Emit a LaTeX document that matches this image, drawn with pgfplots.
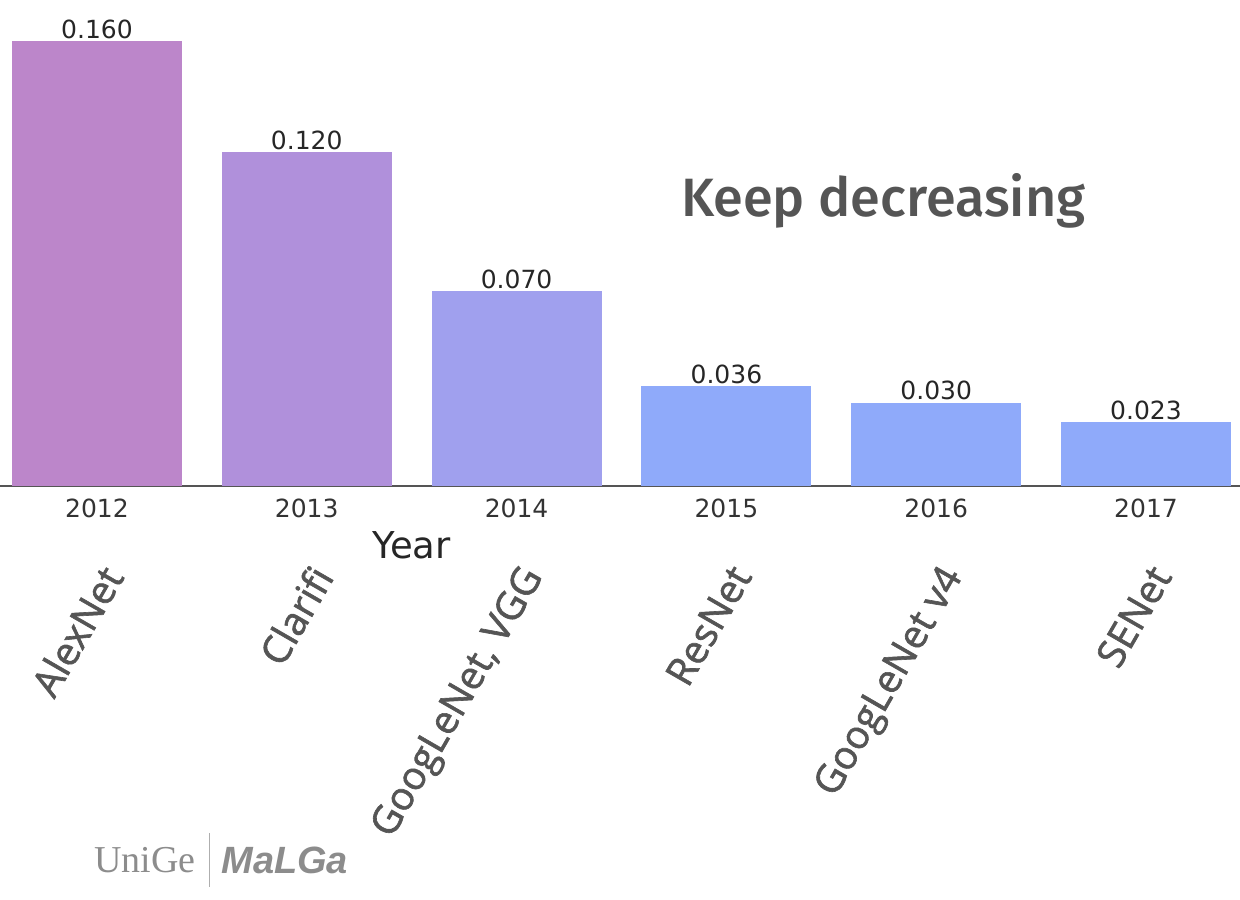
\documentclass[border=0pt]{standalone}
\usepackage{pgfplots}
\pgfplotsset{compat=1.18}
\usepackage{fontspec}
\setmainfont{DejaVu Sans}
\newfontfamily\fira{Fira Sans}[UprightFont=* Medium, ItalicFont=* Medium Italic, BoldFont=* Bold]
\newfontfamily\osans{Open Sans}[FakeBold=1.6]
\newfontfamily\logoserif{Liberation Serif}
\newfontfamily\logosans{Liberation Sans}
\definecolor{c12}{RGB}{188,134,202}
\definecolor{c13}{RGB}{176,144,219}
\definecolor{c14}{RGB}{160,160,238}
\definecolor{c15}{RGB}{143,170,250}
\definecolor{txtgray}{RGB}{85,85,85}
\definecolor{logogray}{RGB}{140,140,140}
\tikzset{namelbl/.style={rotate=60, anchor=north east, inner sep=0pt, font=\osans\fontsize{19.5}{23}\selectfont, text=txtgray}}
\begin{document}
\begin{tikzpicture}
\path[use as bounding box] (0,-206.5pt) rectangle (620pt,243pt);
\begin{axis}[
  at={(0,0)}, anchor=south west,
  scale only axis, width=620pt, height=243pt,
  xmin=-0.462, xmax=5.448, ymin=0, ymax=0.1748,
  axis x line*=bottom, axis y line=none,
  x axis line style={draw=txtgray, line width=1pt},
  xtick={0,1,2,3,4,5},
  xticklabels={2012,2013,2014,2015,2016,2017},
  ytick=\empty,
  major tick length=0pt,
  xticklabel style={font=\fontsize{12.5}{15}\selectfont, text=black!80, yshift=-3pt},
  /pgf/number format/assume math mode=true,
  ybar, bar width=0.81, bar shift=0pt,
  nodes near coords={\pgfmathprintnumber[fixed,fixed zerofill,precision=3]{\pgfplotspointmeta}},
  nodes near coords style={font=\fontsize{12.5}{15}\selectfont, text=black!85, inner sep=1pt, anchor=south},
  clip=false,
]
\addplot[fill=c12, draw=none] coordinates {(0,0.160)};
\addplot[fill=c13, draw=none] coordinates {(1,0.120)};
\addplot[fill=c14, draw=none] coordinates {(2,0.070)};
\addplot[fill=c15, draw=none] coordinates {(3,0.036)};
\addplot[fill=c15, draw=none] coordinates {(4,0.030)};
\addplot[fill=c15, draw=none] coordinates {(5,0.023)};

\node[font=\fira\fontsize{27}{32}\selectfont, text=txtgray] at (axis cs:3.748,0.1025) {Keep decreasing};
\node[font=\fontsize{18.5}{22}\selectfont, text=black!85] at (axis cs:1.5,-0.0212) {Year};

\node[namelbl] at (axis cs:0.01,-0.0273) {AlexNet};
\node[namelbl] at (axis cs:1.01,-0.0273) {Clarifi};
\node[namelbl] at (axis cs:2.01,-0.0273) {GoogLeNet, VGG};
\node[namelbl] at (axis cs:3.01,-0.0273) {ResNet};
\node[namelbl] at (axis cs:4.01,-0.0273) {GoogLeNet v4};
\node[namelbl] at (axis cs:5.01,-0.0273) {SENet};

\node[font=\logoserif\fontsize{19}{22}\selectfont, text=logogray] at (axis cs:0.229,-0.1345) {UniGe};
\draw[logogray!70, line width=0.6pt] (axis cs:0.538,-0.1248) -- (axis cs:0.538,-0.1442);
\node[font=\logosans\bfseries\itshape\fontsize{19}{22}\selectfont, text=logogray] at (axis cs:0.895,-0.1345) {MaLGa};
\end{axis}
\end{tikzpicture}
\end{document}
